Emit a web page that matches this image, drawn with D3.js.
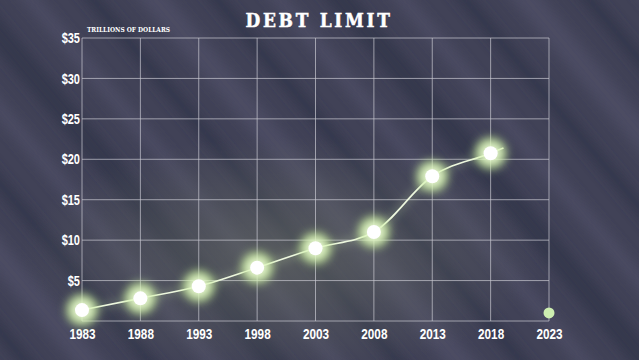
<!DOCTYPE html>
<html>
<head>
<meta charset="utf-8">
<script src="https://d3js.org/d3.v7.min.js"></script>
<style>
  html, body { margin: 0; padding: 0; background: #414257; }
  svg { display: block; }
  .tick-label { font-family: "Liberation Sans", Arial, sans-serif; font-weight: bold; fill: #fff; }
</style>
</head>
<body>
<svg width="639" height="360"></svg>
<script>
// chart values
var years = [1983, 1988, 1993, 1998, 2003, 2008, 2013, 2018];
var limits = [1.35, 2.8, 4.3, 6.6, 9.0, 11.0, 17.9, 20.75];
var tailYear = 2019.1, tailValue = 21.4;
var futureYear = 2023, futureValue = 1.0;
var xTicks = [1983, 1988, 1993, 1998, 2003, 2008, 2013, 2018, 2023];
var yTicks = [5, 10, 15, 20, 25, 30, 35];

var svg = d3.select("svg"),
    width = +svg.attr("width"),
    height = +svg.attr("height");

var defs = svg.append("defs");

// soft blur for background stripes
defs.append("filter").attr("id", "soft")
  .attr("x", "-50%").attr("y", "-50%").attr("width", "200%").attr("height", "200%")
  .append("feGaussianBlur").attr("stdDeviation", 6);

var glow = defs.append("filter").attr("id", "glow")
  .attr("x", "-200%").attr("y", "-200%").attr("width", "500%").attr("height", "500%");
glow.append("feGaussianBlur").attr("stdDeviation", 5);

var halo = defs.append("radialGradient").attr("id", "halo");
halo.append("stop").attr("offset", "0%").attr("stop-color", "#6a7065").attr("stop-opacity", 0.55);
halo.append("stop").attr("offset", "100%").attr("stop-color", "#6a7065").attr("stop-opacity", 0);

// background
svg.append("rect").attr("width", width).attr("height", height).attr("fill", "#414257");

var bg = svg.append("g").attr("filter", "url(#soft)");
d3.range(-6, 16).forEach(function(i) {
  bg.append("line")
    .attr("x1", i * 62 - 250).attr("y1", -40)
    .attr("x2", i * 62 + 120).attr("y2", 400)
    .attr("stroke", i % 2 ? "#34354a" : "#4d4e64")
    .attr("stroke-width", i % 3 ? 14 : 24)
    .attr("opacity", 0.85);
});

var margin = {left: 82, right: 90, top: 38, bottom: 39};

var X = d3.scaleLinear().domain([1983, 2023]).range([margin.left, width - margin.right]);
var Y = d3.scaleLinear().domain([0, 35]).range([height - margin.bottom, margin.top]);

// big faint halo behind the data
svg.append("ellipse")
  .attr("cx", X(2000)).attr("cy", Y(8))
  .attr("rx", 260).attr("ry", 120)
  .attr("fill", "url(#halo)");

// grid
var grid = svg.append("g").attr("stroke", "#c9c9d2").attr("stroke-opacity", 0.7).attr("stroke-width", 1);
grid.selectAll(".v").data(xTicks).enter().append("line")
  .attr("x1", function(d) { return X(d); }).attr("x2", function(d) { return X(d); })
  .attr("y1", Y(35)).attr("y2", Y(0));
grid.selectAll(".h").data([0].concat(yTicks)).enter().append("line")
  .attr("y1", function(d) { return Y(d); }).attr("y2", function(d) { return Y(d); })
  .attr("x1", X(1983)).attr("x2", X(2023));

// axes (condensed look via horizontal squeeze)
var yAxis = svg.append("g")
  .attr("transform", "translate(" + (margin.left - 2) + ",0)")
  .call(d3.axisLeft(Y).tickValues(yTicks).tickSize(0).tickPadding(0).tickFormat(function(d) { return "$" + d; }));
yAxis.select(".domain").remove();
yAxis.selectAll("text").attr("class", "tick-label").attr("font-size", 14.5)
  .attr("dy", "0.32em").attr("transform", "scale(0.76,1)");

var xAxis = svg.append("g")
  .attr("transform", "translate(0," + (Y(0) + 5) + ")")
  .call(d3.axisBottom(X).tickValues(xTicks).tickSize(0).tickFormat(d3.format("d")));
xAxis.select(".domain").remove();
xAxis.selectAll("text").attr("class", "tick-label").attr("font-size", 14.5)
  .attr("transform", "scale(0.81,1)");

// title
svg.append("text")
  .attr("x", 319).attr("y", 27)
  .attr("text-anchor", "middle")
  .attr("font-family", "DejaVu Serif, serif").attr("font-weight", "bold")
  .attr("font-size", 19).attr("letter-spacing", 3)
  .attr("textLength", 147).attr("lengthAdjust", "spacingAndGlyphs")
  .attr("fill", "#fff")
  .attr("stroke", "#fff").attr("stroke-width", 0.5)
  .text("DEBT LIMIT");

svg.append("text")
  .attr("x", 87).attr("y", 32)
  .attr("font-family", "DejaVu Serif, serif").attr("font-weight", "bold")
  .attr("font-size", 8)
  .attr("textLength", 83).attr("lengthAdjust", "spacingAndGlyphs")
  .attr("fill", "#fff")
  .text("TRILLIONS OF DOLLARS");

// line
var pts = years.map(function(y, i) { return [y, limits[i]]; }).concat([[tailYear, tailValue]]);
var line = d3.line()
  .x(function(d) { return X(d[0]); })
  .y(function(d) { return Y(d[1]); })
  .curve(d3.curveMonotoneX);

svg.append("path").datum(pts)
  .attr("d", line)
  .attr("fill", "none")
  .attr("stroke", "#d6f0b8").attr("stroke-width", 4).attr("stroke-opacity", 0.35)
  .attr("filter", "url(#glow)");
svg.append("path").datum(pts)
  .attr("d", line)
  .attr("fill", "none")
  .attr("stroke", "#eef8df").attr("stroke-width", 1.6);

// glowing points
var dots = svg.append("g").selectAll("g")
  .data(years.map(function(y, i) { return {x: y, y: limits[i]}; }))
  .enter().append("g")
  .attr("transform", function(d) { return "translate(" + X(d.x) + "," + Y(d.y) + ")"; });

dots.append("circle").attr("r", 16).attr("fill", "#c8f09a").attr("opacity", 0.75).attr("filter", "url(#glow)");
dots.append("circle").attr("r", 10).attr("fill", "#f0fcdc").attr("filter", "url(#glow)");
dots.append("circle").attr("r", 7).attr("fill", "#ffffff");

// 2023 marker
svg.append("circle")
  .attr("cx", X(futureYear)).attr("cy", Y(futureValue))
  .attr("r", 5.5)
  .attr("fill", "#cdeeb0");
</script>
</body>
</html>
